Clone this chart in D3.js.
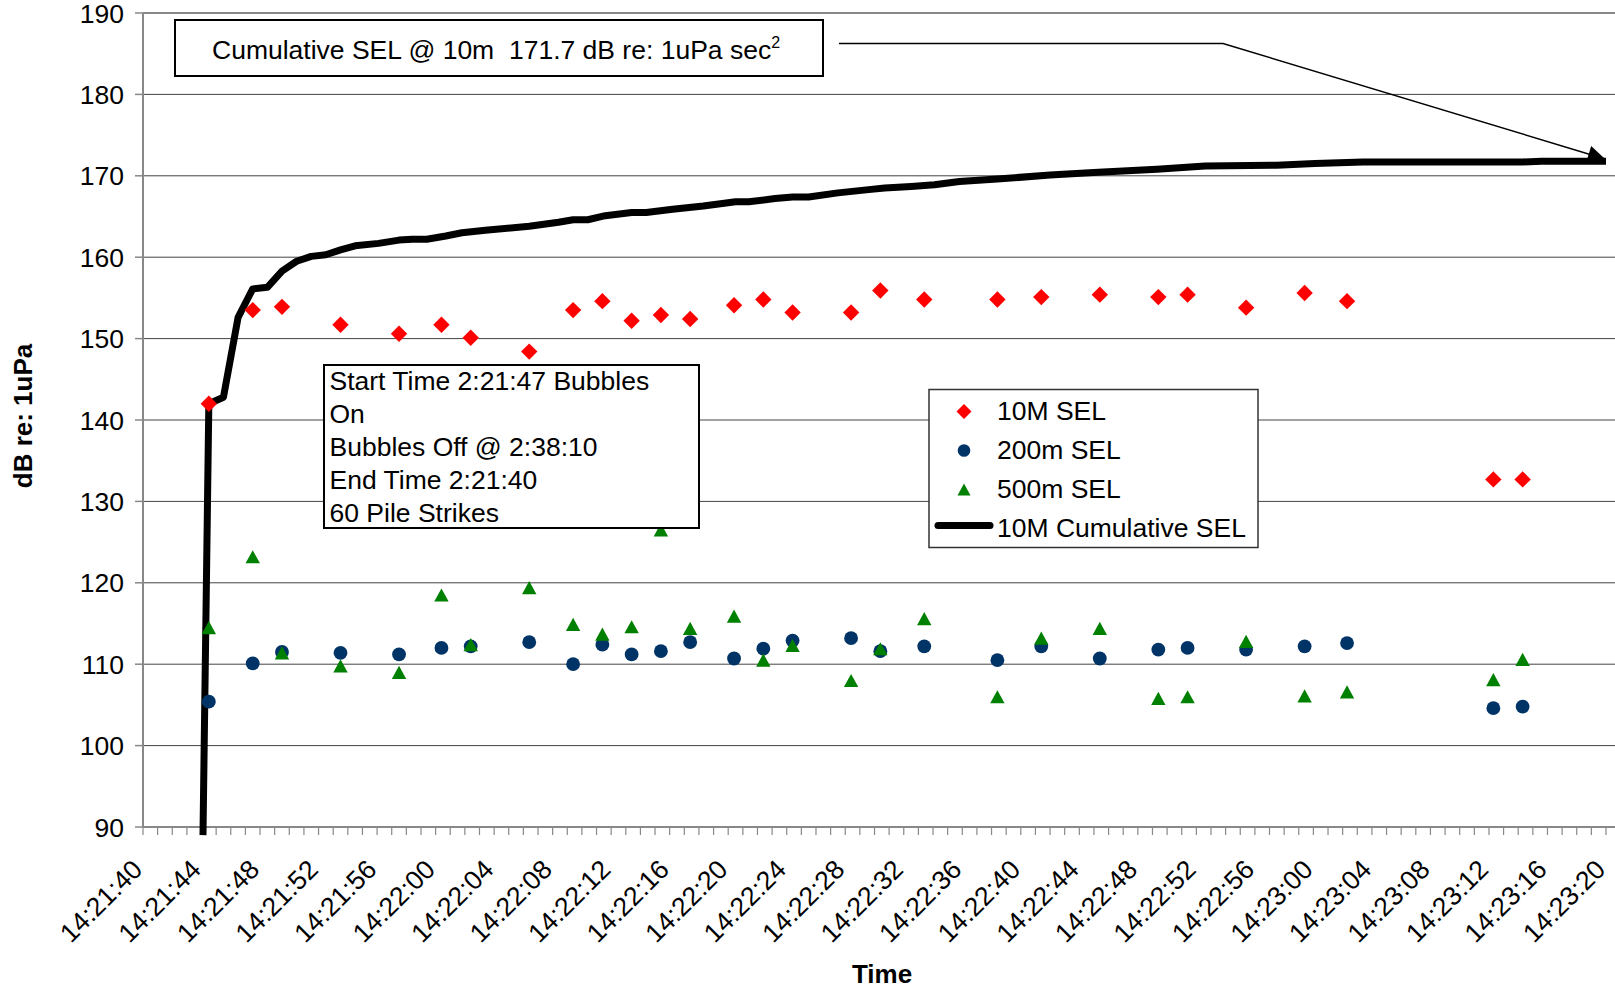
<!DOCTYPE html>
<meta charset="utf-8">
<script src="https://d3js.org/d3.v7.min.js"></script>
<style>
  body { margin: 0; background: #fff; }
  text { font-family: Arial, "Liberation Sans", sans-serif; fill: #000; }
</style>
<svg id="chart" width="1615" height="990"></svg>
<script>

// seconds after 14:21:40 for each recorded strike
var strikeTime = [4.5, 7.5, 9.5, 13.5, 17.5, 20.4, 22.4, 26.4, 29.4, 31.4, 33.4, 35.4, 37.4, 40.4, 42.4,
                  44.4, 48.4, 50.4, 53.4, 58.4, 61.4, 65.4, 69.4, 71.4, 75.4, 79.4, 82.3, 92.3, 94.3];
var sel10m  = [142.0, 153.5, 153.9, 151.7, 150.6, 151.7, 150.1, 148.4, 153.5, 154.6, 152.2, 152.9, 152.4, 154.1, 154.8,
               153.2, 153.2, 155.9, 154.8, 154.8, 155.1, 155.4, 155.1, 155.4, 153.8, 155.6, 154.6, 132.7, 132.7];
var sel200m = [105.4, 110.1, 111.5, 111.4, 111.2, 112.0, 112.2, 112.7, 110.0, 112.4, 111.2, 111.6, 112.7, 110.7, 111.9,
               112.9, 113.2, 111.6, 112.2, 110.5, 112.2, 110.7, 111.8, 112.0, 111.8, 112.2, 112.6, 104.6, 104.8];
var sel500m = [114.5, 123.2, 111.4, 109.8, 109.0, 118.5, 112.4, 119.4, 114.9, 113.7, 114.6, 126.5, 114.4, 115.9, 110.5,
               112.3, 108.0, 111.9, 115.6, 106.0, 113.2, 114.4, 105.8, 106.0, 112.8, 106.1, 106.6, 108.1, 110.6];

// 10M cumulative SEL
var cumTime = [4.1, 4.5, 5.5, 6.5, 7.5, 8.5, 9.5, 10.5, 11.5, 12.5, 13.5, 14.5, 16.1, 17.5, 18.4, 19.4, 20.7, 21.8,
               23.4, 26.4, 28.4, 29.4, 30.4, 31.6, 33.4, 34.4, 36.2, 38.3, 39.6, 40.5, 41.4, 43.2, 44.4, 45.5, 47.5,
               49.6, 50.7, 52.5, 54.1, 55.8, 58.4, 62.0, 65.3, 69.3, 72.6, 77.5, 80.1, 83.4, 94.3, 95.6, 100];
var cumSel  = [89, 142.0, 142.8, 152.6, 156.1, 156.3, 158.3, 159.5, 160.1, 160.3, 160.9, 161.4, 161.7, 162.1, 162.2,
               162.2, 162.6, 163.0, 163.3, 163.8, 164.3, 164.6, 164.6, 165.1, 165.5, 165.5, 165.9, 166.3, 166.6,
               166.8, 166.8, 167.2, 167.4, 167.4, 167.9, 168.3, 168.5, 168.7, 168.9, 169.3, 169.6, 170.1, 170.45,
               170.8, 171.2, 171.3, 171.5, 171.7, 171.7, 171.8, 171.8];

var xTickLabels = ["14:21:40", "14:21:44", "14:21:48", "14:21:52", "14:21:56", "14:22:00", "14:22:04",
                   "14:22:08", "14:22:12", "14:22:16", "14:22:20", "14:22:24", "14:22:28", "14:22:32",
                   "14:22:36", "14:22:40", "14:22:44", "14:22:48", "14:22:52", "14:22:56", "14:23:00",
                   "14:23:04", "14:23:08", "14:23:12", "14:23:16", "14:23:20"];
var yTicks = [90, 100, 110, 120, 130, 140, 150, 160, 170, 180, 190];

var legendNames = ["10M SEL", "200m SEL", "500m SEL", "10M Cumulative SEL"];
var noteLines = ["Start Time 2:21:47 Bubbles", "On", "Bubbles Off @ 2:38:10", "End Time 2:21:40", "60 Pile Strikes"];

var svg = d3.select("#chart"),
    width = +svg.attr("width"),
    height = +svg.attr("height");

var x = d3.scaleLinear().domain([0, 100]).range([143, 1606]);
var y = d3.scaleLinear().domain([90, 190]).range([827, 13]);
var left = x(0), bottom = y(90);

// gridlines
svg.append("g").selectAll("line")
  .data(yTicks.filter(function(d) { return d > 90; }))
  .enter().append("line")
    .attr("x1", left).attr("x2", width)
    .attr("y1", function(d) { return y(d); })
    .attr("y2", function(d) { return y(d); })
    .style("stroke", function(d) { return d == 190 ? "#888" : "#444"; })
    .style("stroke-width", function(d) { return d == 190 ? 2 : 1; });

// y axis
svg.append("line")
  .attr("x1", left).attr("x2", left).attr("y1", y(190)).attr("y2", bottom)
  .style("stroke", "#888").style("stroke-width", 2);
svg.append("g").selectAll("line")
  .data(yTicks).enter().append("line")
    .attr("x1", left - 8).attr("x2", left)
    .attr("y1", function(d) { return y(d); })
    .attr("y2", function(d) { return y(d); })
    .style("stroke", "#888").style("stroke-width", 1.5);
svg.append("g").selectAll("text")
  .data(yTicks).enter().append("text")
    .attr("x", 124)
    .attr("y", function(d) { return y(d); })
    .attr("dy", "0.36em")
    .attr("text-anchor", "end")
    .style("font-size", "26.5px")
    .text(function(d) { return d; });

// x axis
svg.append("line")
  .attr("x1", left).attr("x2", width).attr("y1", bottom).attr("y2", bottom)
  .style("stroke", "#888").style("stroke-width", 2);
svg.append("g").selectAll("line")
  .data(d3.range(0, 101, 1)).enter().append("line")
    .attr("x1", function(d) { return x(d); })
    .attr("x2", function(d) { return x(d); })
    .attr("y1", bottom).attr("y2", bottom + 8)
    .style("stroke", "#888").style("stroke-width", 1.2);
svg.append("g").selectAll("text")
  .data(xTickLabels).enter().append("text")
    .attr("transform", function(d, i) { return "translate(" + (x(i * 4) + 1) + "," + (bottom + 44) + ") rotate(-45)"; })
    .attr("text-anchor", "end")
    .style("font-size", "26.5px")
    .text(function(d) { return d; });

// axis titles
svg.append("text")
  .attr("transform", "translate(32," + ((y(190) + bottom) / 2 - 4) + ") rotate(-90)")
  .attr("text-anchor", "middle")
  .style("font-size", "26px").style("font-weight", "bold")
  .text("dB re: 1uPa");
svg.append("text")
  .attr("x", 882).attr("y", 983)
  .attr("text-anchor", "middle")
  .style("font-size", "26px").style("font-weight", "bold")
  .text("Time");

// cumulative line
var line = d3.line()
  .x(function(d, i) { return x(cumTime[i]); })
  .y(function(d) { return y(d); });
svg.append("path")
  .attr("d", line(cumSel))
  .style("fill", "none")
  .style("stroke", "#000")
  .style("stroke-width", 7)
  .style("stroke-linejoin", "round");

// marker shapes
function diamond(s) { return "M0," + (-s) + "L" + s + ",0L0," + s + "L" + (-s) + ",0Z"; }
function triangle(w, h) { return "M0," + (-h) + "L" + w + "," + h + "L" + (-w) + "," + h + "Z"; }

svg.append("g").selectAll("path")
  .data(sel10m).enter().append("path")
    .attr("d", diamond(8.2))
    .attr("transform", function(d, i) { return "translate(" + x(strikeTime[i]) + "," + y(d) + ")"; })
    .attr("fill", "#ff0000");

svg.append("g").selectAll("circle")
  .data(sel200m).enter().append("circle")
    .attr("cx", function(d, i) { return x(strikeTime[i]); })
    .attr("cy", function(d) { return y(d); })
    .attr("r", 6.9)
    .attr("fill", "#003366");

svg.append("g").selectAll("path")
  .data(sel500m).enter().append("path")
    .attr("d", triangle(7.2, 6.6))
    .attr("transform", function(d, i) { return "translate(" + x(strikeTime[i]) + "," + y(d) + ")"; })
    .attr("fill", "#008000");

// annotation: cumulative SEL with arrow
svg.append("defs").append("marker")
  .attr("id", "arrow")
  .attr("viewBox", "0 0 10 10")
  .attr("refX", 10).attr("refY", 5)
  .attr("markerWidth", 24).attr("markerHeight", 17)
  .attr("markerUnits", "userSpaceOnUse")
  .attr("orient", "auto")
  .append("path").attr("d", "M0,0L10,5L0,10Z").attr("fill", "#000");

var tipX = x(100) - 1, tipY = y(171.7) - 3;
svg.append("path")
  .attr("d", "M839,43.5L1223,43.5L" + tipX + "," + tipY)
  .style("fill", "none").style("stroke", "#000").style("stroke-width", 1.5)
  .attr("marker-end", "url(#arrow)");

svg.append("rect")
  .attr("x", 175).attr("y", 20).attr("width", 648).attr("height", 56)
  .attr("fill", "#fff").attr("stroke", "#000").attr("stroke-width", 2);
var t1 = svg.append("text")
  .attr("x", 212).attr("y", 59)
  .style("font-size", "26.5px");
t1.append("tspan").text("Cumulative SEL @ 10m\u00a0\u00a0171.7 dB re: 1uPa sec");
t1.append("tspan").attr("dy", -11).style("font-size", "16px").text("2");

// annotation: notes
svg.append("rect")
  .attr("x", 324).attr("y", 365).attr("width", 375).attr("height", 163)
  .attr("fill", "#fff").attr("stroke", "#000").attr("stroke-width", 2);
svg.append("g").selectAll("text")
  .data(noteLines).enter().append("text")
    .attr("x", 329.5)
    .attr("y", function(d, i) { return 389.5 + i * 33.1; })
    .style("font-size", "26.5px")
    .text(function(d) { return d; });

// legend
var lg = svg.append("g");
lg.append("rect")
  .attr("x", 929).attr("y", 389.5).attr("width", 329).attr("height", 158)
  .attr("fill", "#fff").attr("stroke", "#333").attr("stroke-width", 1.5);
lg.selectAll("text")
  .data(legendNames).enter().append("text")
    .attr("x", 997)
    .attr("y", function(d, i) { return 419.5 + i * 39; })
    .style("font-size", "26.5px")
    .text(function(d) { return d; });
var mx = 964;
lg.append("path").attr("d", diamond(7.5)).attr("transform", "translate(" + mx + ",411.5)").attr("fill", "#ff0000");
lg.append("circle").attr("cx", mx).attr("cy", 450.5).attr("r", 6.3).attr("fill", "#003366");
lg.append("path").attr("d", triangle(6.5, 6)).attr("transform", "translate(" + mx + ",489.5)").attr("fill", "#008000");
lg.append("line")
  .attr("x1", 938).attr("x2", 990).attr("y1", 525.5).attr("y2", 525.5)
  .style("stroke", "#000").style("stroke-width", 7).style("stroke-linecap", "round");

</script>
